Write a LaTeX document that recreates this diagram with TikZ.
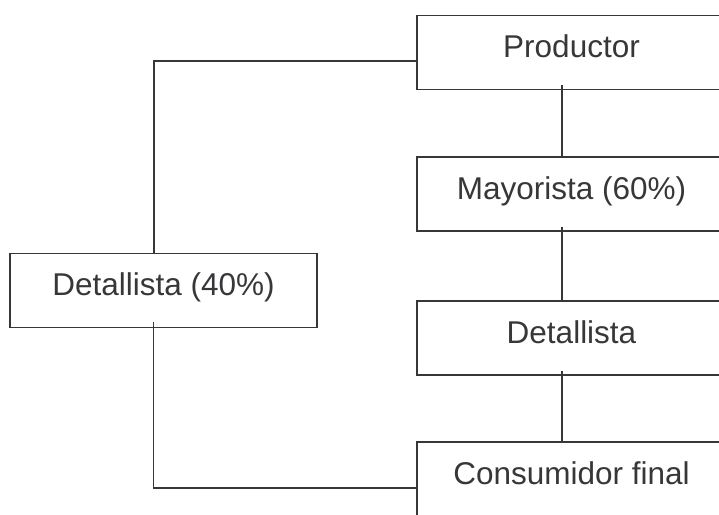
\documentclass[tikz,border=0pt]{standalone}
\usepackage{fontspec}
\setmainfont{Liberation Sans}
\definecolor{inkgray}{RGB}{55,55,58}
\newlength{\boxwidth}
\setlength{\boxwidth}{309pt}

\tikzset{
    canal/.style={draw=inkgray, line width=1.8pt, minimum width=\boxwidth,
        inner xsep=0pt, inner ysep=19pt, text height=23pt, text depth=13pt,
        text=inkgray, font=\fontsize{31.5}{36}\selectfont},
    enlace/.style={draw=inkgray, line width=1.8pt}
}

\begin{document}
\begin{tikzpicture}[x=1pt, y=-1pt]
    \clip (0,0) rectangle (719,514);
    \node[canal] (productor) at (571.5,52.5) {Productor};
    \node[canal] (mayorista) at (571.5,194) {Mayorista (60\%)};
    \node[canal] (detallista) at (571.5,338) {Detallista};
    \node[canal] (consumidor) at (571.5,479) {Consumidor final};
    \node[canal, minimum width=307pt] (detallista40) at (163.5,290.5) {Detallista (40\%)};

    \draw[enlace] ([xshift=-9.5pt,yshift=5pt]productor.south) -- ([xshift=-9.5pt]mayorista.north);
    \draw[enlace] ([xshift=-9.5pt,yshift=5pt]mayorista.south) -- ([xshift=-9.5pt]detallista.north);
    \draw[enlace] ([xshift=-9.5pt,yshift=5pt]detallista.south) -- ([xshift=-9.5pt]consumidor.north);
    \draw[enlace] ([yshift=-8.5pt]productor.west) -| ([xshift=-9.5pt]detallista40.north);
    \draw[enlace] ([xshift=-10pt,yshift=6pt]detallista40.south) |- ([yshift=-9pt]consumidor.west);
\end{tikzpicture}
\end{document}
